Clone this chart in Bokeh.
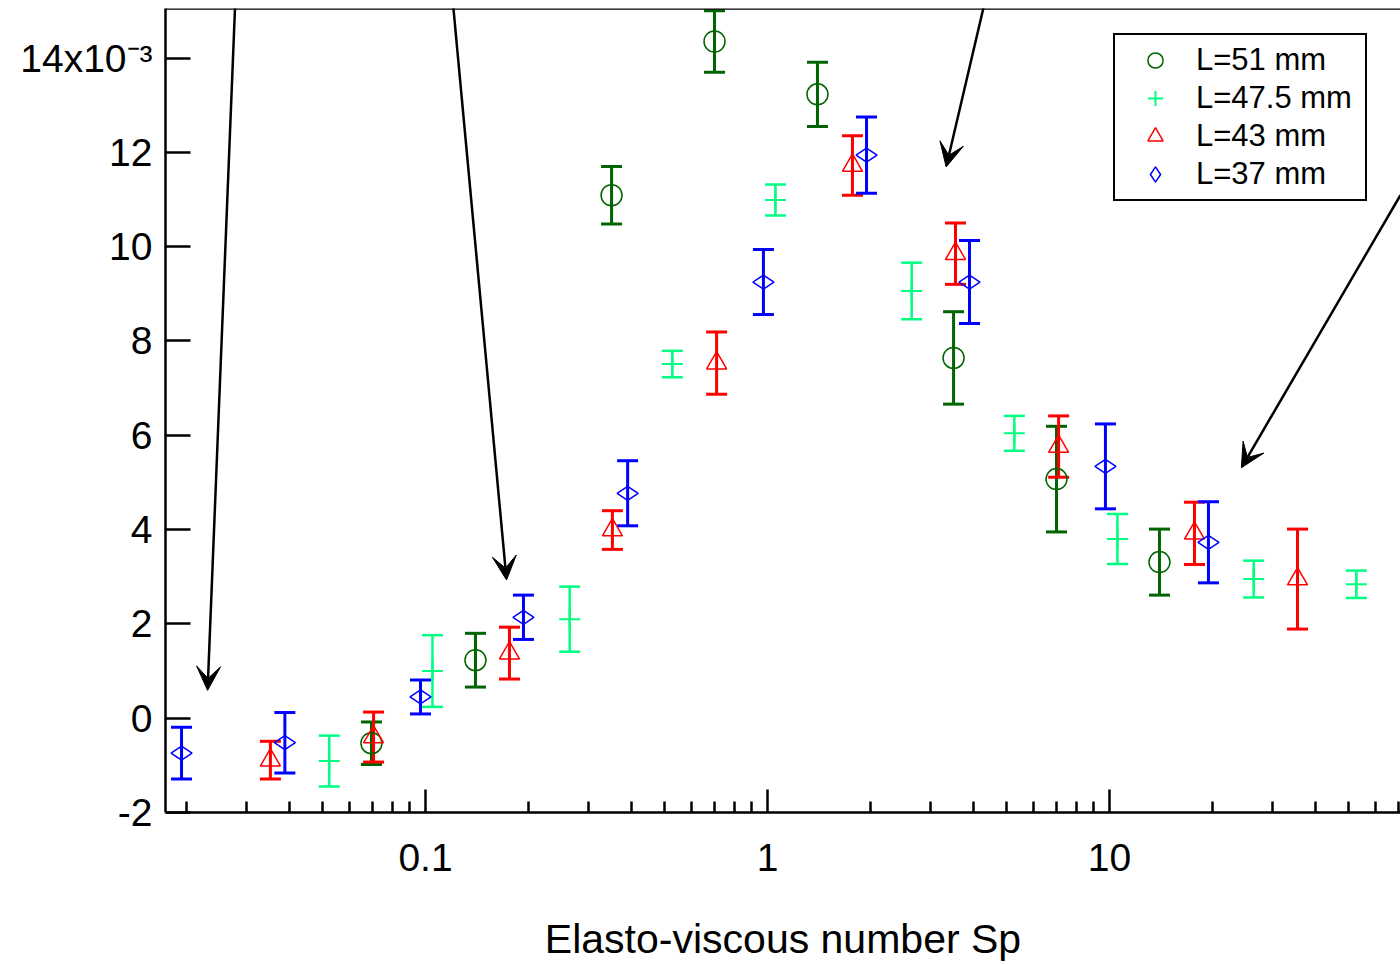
import math
from bokeh.plotting import figure
from bokeh.models import (Range1d, Whisker, TeeHead, ColumnDataSource, Legend, LegendItem,
                          FixedTicker, Arrow, VeeHead, Span, CustomJSTickFormatter)
from bokeh.embed import file_html
from bokeh.resources import INLINE

# ---------------- data (y in units of 1e-3) ----------------
sp_51 = [0.0695, 0.140, 0.350, 0.700, 1.40, 3.50, 7.00, 14.0]
v_51 = [-0.53, 1.23, 11.09, 14.35, 13.23, 7.64, 5.07, 3.31]
e_51 = [0.45, 0.57, 0.61, 0.65, 0.68, 0.98, 1.12, 0.70]

sp_475 = [0.0523, 0.1048, 0.264, 0.527, 1.055, 2.64, 5.27, 10.55, 26.4, 52.7]
v_475 = [-0.91, 1.00, 2.10, 7.51, 10.99, 9.06, 6.04, 3.80, 2.95, 2.84]
e_475 = [0.54, 0.76, 0.69, 0.28, 0.33, 0.60, 0.37, 0.53, 0.39, 0.29]

sp_43 = [0.0352, 0.0705, 0.176, 0.352, 0.710, 1.772, 3.546, 7.10, 17.72, 35.46]
v_43 = [-0.89, -0.40, 1.38, 3.99, 7.53, 11.72, 9.85, 5.76, 3.92, 2.95]
e_43 = [0.40, 0.53, 0.55, 0.41, 0.66, 0.63, 0.65, 0.65, 0.66, 1.06]

sp_37 = [0.01935, 0.0388, 0.0967, 0.1934, 0.390, 0.973, 1.948, 3.896, 9.73, 19.47]
v_37 = [-0.74, -0.52, 0.45, 2.14, 4.77, 9.25, 11.94, 9.25, 5.34, 3.73]
e_37 = [0.55, 0.64, 0.36, 0.47, 0.69, 0.69, 0.81, 0.88, 0.90, 0.86]

series_labels = ["L=51 mm", "L=47.5 mm", "L=43 mm", "L=37 mm"]

x_major_ticks = [0.1, 1, 10]
x_minor_ticks = [0.02, 0.03, 0.04, 0.05, 0.06, 0.07, 0.08, 0.09,
                 0.2, 0.3, 0.4, 0.5, 0.6, 0.7, 0.8, 0.9,
                 2, 3, 4, 5, 6, 7, 8, 9,
                 20, 30, 40, 50, 60, 70]
y_ticks = [-2, 0, 2, 4, 6, 8, 10, 12, 14]
y_top_label = "14x10\u207b\u00b3"

# annotation arrows (data coordinates: tail -> head)
arrow_x_start = [0.0278, 0.120, 4.34, 70.9]
arrow_y_start = [15.25, 15.25, 15.25, 11.09]
arrow_x_end = [0.02306, 0.1726, 3.33, 24.3]
arrow_y_end = [0.59, 2.93, 11.69, 5.31]

FONT = "Liberation Sans"
DKGREEN = "#006400"
SPRING = "#00FF80"
RED = "#FF0000"
BLUE = "#0000FF"

X_LO, X_HI = 10 ** -1.7602, 10 ** 1.8509

p = figure(width=1400, height=965, x_axis_type="log",
           x_range=Range1d(X_LO, X_HI),
           y_range=Range1d(-2, 15.05),
           output_backend="svg", toolbar_location=None,
           min_border_left=165, min_border_right=0, min_border_top=8, min_border_bottom=153)
p.outline_line_color = None
p.grid.visible = False
p.background_fill_color = "white"

xa = p.xaxis[0]
xa.ticker = FixedTicker(ticks=x_major_ticks, minor_ticks=x_minor_ticks)
xa.formatter = CustomJSTickFormatter(code="return tick.toString()")
xa.major_tick_in = 23
xa.major_tick_out = 0
xa.minor_tick_in = 11
xa.minor_tick_out = 0
xa.major_tick_line_width = 2.5
xa.minor_tick_line_width = 2.5
xa.axis_line_width = 2.5
xa.major_label_text_font = FONT
xa.major_label_text_font_size = "39px"
xa.major_label_text_color = "black"
xa.major_label_standoff = 31
xa.axis_label = "Elasto-viscous number Sp"
xa.axis_label_text_font = FONT
xa.axis_label_text_font_size = "41px"
xa.axis_label_text_font_style = "normal"
xa.axis_label_text_color = "black"
xa.axis_label_standoff = 42

ya = p.yaxis[0]
ya.ticker = FixedTicker(ticks=y_ticks, minor_ticks=[])
ya.formatter = CustomJSTickFormatter(args=dict(top=y_top_label),
                                     code="return tick == 14 ? top : tick.toString()")
ya.major_tick_in = 25
ya.major_tick_out = 0
ya.minor_tick_line_color = None
ya.major_tick_line_width = 2.5
ya.axis_line_width = 2.5
ya.major_label_text_font = FONT
ya.major_label_text_font_size = "39px"
ya.major_label_text_color = "black"
ya.major_label_standoff = 13

p.add_layout(Span(location=15.05, dimension="width", line_color="black", line_width=2.5))

series = [
    (sp_51, v_51, e_51, DKGREEN, "circle", 21, 1.5, 0.0, 3),
    (sp_475, v_475, e_475, SPRING, "cross", 21, 2.0, 0.0, 2.5),
    (sp_43, v_43, e_43, RED, "triangle", 20, 1.5, 0.0, 3),
    (sp_37, v_37, e_37, BLUE, "diamond", 21, 1.5, math.pi / 2, 3),
]

renderers = []
for sp, v, e, col, mk, sz, lw, ang, elw in series:
    src = ColumnDataSource(dict(x=sp, y=v,
                                upper=[a + b for a, b in zip(v, e)],
                                lower=[a - b for a, b in zip(v, e)]))
    w = Whisker(source=src, base="x", upper="upper", lower="lower", dimension="height",
                line_color=col, line_width=elw,
                upper_head=TeeHead(size=21, line_color=col, line_width=elw),
                lower_head=TeeHead(size=21, line_color=col, line_width=elw))
    p.add_layout(w)
    r = p.scatter("x", "y", source=src, marker=mk, size=sz, angle=ang,
                  fill_color=None, line_color=col, line_width=lw)
    renderers.append(r)

for xs, ys, xe, ye in zip(arrow_x_start, arrow_y_start, arrow_x_end, arrow_y_end):
    p.add_layout(Arrow(x_start=xs, y_start=ys, x_end=xe, y_end=ye,
                       line_color="black", line_width=2.5,
                       end=VeeHead(size=24, fill_color="black", fill_alpha=1,
                                   line_color="black", line_width=1)))

legend = Legend(items=[LegendItem(label=lab, renderers=[r]) for lab, r in zip(series_labels, renderers)],
                location=(948, 611))
legend.border_line_color = "black"
legend.border_line_alpha = 1
legend.border_line_width = 2.5
legend.background_fill_color = "white"
legend.background_fill_alpha = 1
legend.label_text_font = FONT
legend.label_text_font_size = "31px"
legend.label_text_color = "black"
legend.glyph_height = 38
legend.glyph_width = 68
legend.label_standoff = 7
legend.label_width = 163
legend.label_height = 38
legend.spacing = 0
legend.padding = 6
legend.margin = 0
p.add_layout(legend)

open("out.html", "w").write(file_html(p, INLINE))
